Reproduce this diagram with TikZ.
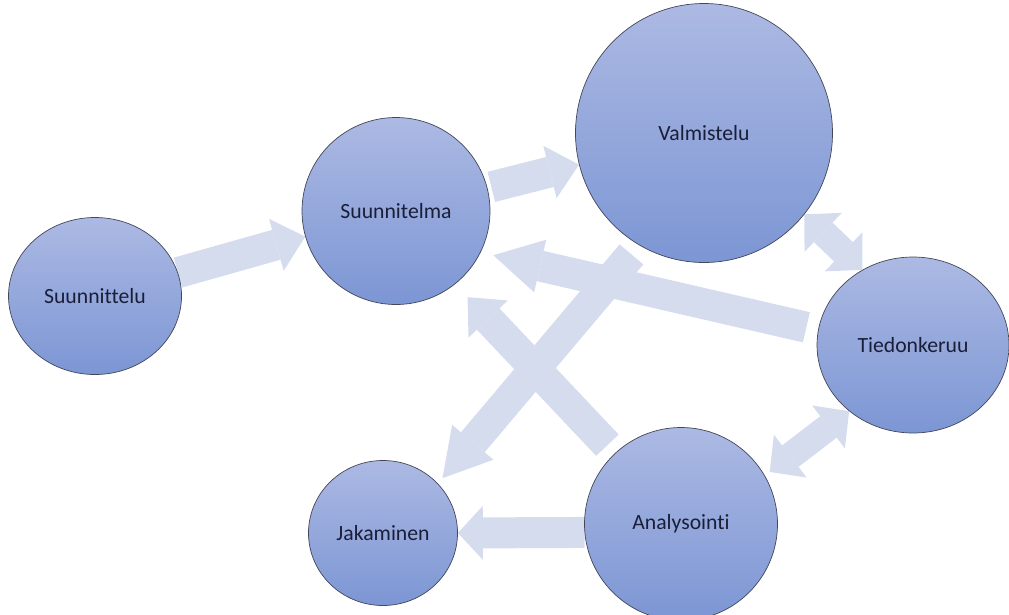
\documentclass[tikz,border=0pt]{standalone}
\usepackage{fontspec}
\setmainfont{Carlito}[Ligatures=NoCommon]
\usetikzlibrary{arrows.meta,shapes.geometric,backgrounds}
\definecolor{ballTop}{RGB}{172,185,227}
\definecolor{ballBot}{RGB}{124,150,212}
\definecolor{rim}{RGB}{66,70,88}
\definecolor{ink}{RGB}{26,30,56}
\definecolor{flowfill}{RGB}{213,220,238}

\begin{document}
\begin{tikzpicture}[x=1pt,y=-1pt]
\tikzset{
  ball/.style={ellipse,draw=rim,line width=0.7pt,top color=ballTop,bottom color=ballBot,
    text=ink,font=\fontsize{21.7}{26}\selectfont,inner sep=0pt},
  flow/.style={draw=flowfill,line width=31pt,
    -{Triangle[length=#1,width=54pt,line width=0pt]}},
  flow/.default=30pt,
  both/.style={draw=flowfill,line width=27pt,
    {Triangle[length=26pt,width=54pt,line width=0pt]}-{Triangle[length=26pt,width=54pt,line width=0pt]}}}
\useasboundingbox (0,0) rectangle (1009,614);
% ---------- stages ----------
\node[ball,minimum width=173pt,minimum height=157pt] (suunnittelu) at (95,296) {Suunnittelu};
\node[ball,minimum width=188pt,minimum height=187pt] (suunnitelma) at (396,211) {Suunnitelma};
\node[ball,minimum width=257pt,minimum height=259pt] (valmistelu) at (704,133) {Valmistelu};
\node[ball,minimum width=192pt,minimum height=176pt] (tiedon) at (913,345) {Tiedonkeruu};
\node[ball,minimum width=193pt,minimum height=193pt] (analysointi) at (681,524) {Analysointi};
\node[ball,minimum width=149pt,minimum height=145pt] (jakaminen) at (383,533) {Jakaminen};
% ---------- block arrows ----------
\begin{pgfonlayer}{background}
\draw[flow] (suunnittelu) -- (suunnitelma);
\draw[flow,shorten <=4pt] (suunnitelma) -- (valmistelu);
\draw[both] (valmistelu.-39) -- (tiedon.124);
\draw[flow=48pt,shorten <=12pt,shorten >=13pt] (tiedon.171) -- (suunnitelma.-26);
\draw[flow=47pt,shorten <=12pt,shorten >=7pt] (valmistelu.240) -- (jakaminen.42);
\draw[flow,shorten <=11pt,shorten >=18pt] (analysointi.133) -- (suunnitelma.-51);
\draw[both,shorten >=6pt] (tiedon.226) -- (analysointi.30);
\draw[flow=25pt] (analysointi.185) -- (jakaminen.east);
\end{pgfonlayer}
\end{tikzpicture}
\end{document}
